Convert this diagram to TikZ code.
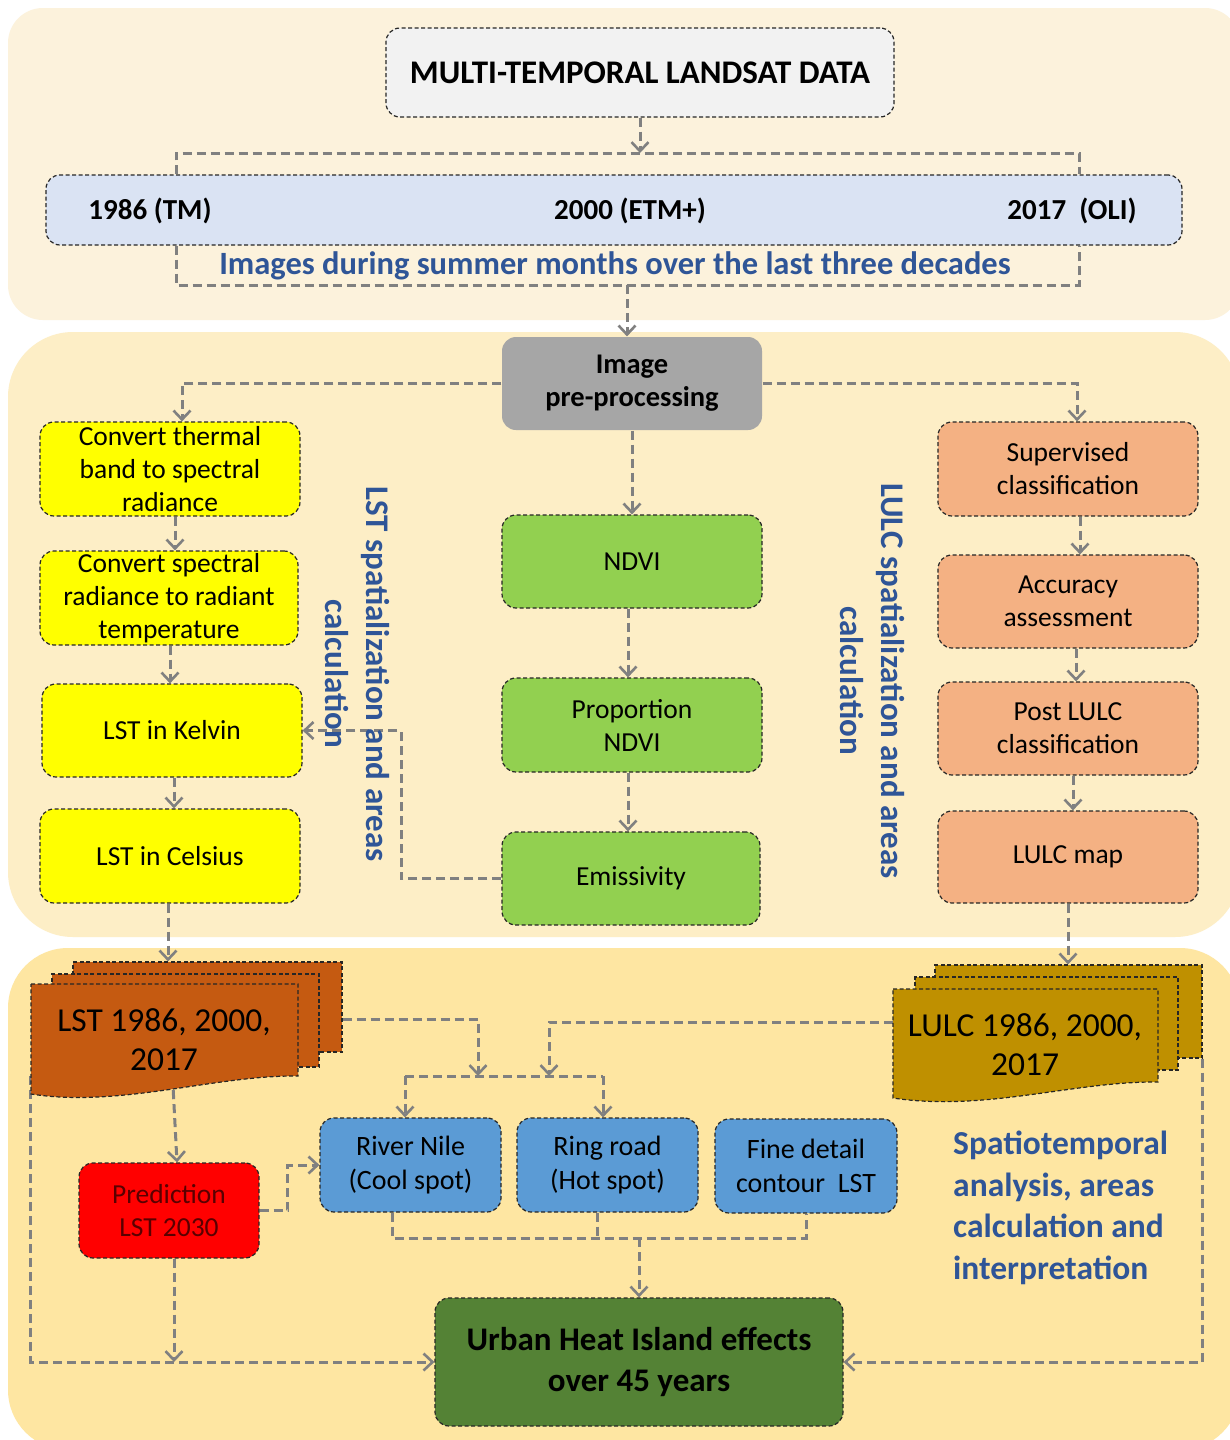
\documentclass[tikz,border=0pt]{standalone}
\usepackage{fontspec}
\setmainfont{Carlito}
\usetikzlibrary{arrows.meta,calc}
\pgfdeclarelayer{bg}\pgfdeclarelayer{mid}\pgfsetlayers{bg,mid,main}
\definecolor{panA}{HTML}{FCF2DC}
\definecolor{panB}{HTML}{FDEEC6}
\definecolor{panC}{HTML}{FEE6A2}
\definecolor{arrgray}{HTML}{808080}
\definecolor{bluetxt}{HTML}{2F5597}
\definecolor{yel}{HTML}{FFFF00}
\definecolor{grn}{HTML}{92D050}
\definecolor{org}{HTML}{F4B183}
\definecolor{blu}{HTML}{5B9BD5}
\definecolor{dgrn}{HTML}{548235}
\definecolor{lstc}{HTML}{C55A11}
\definecolor{lulcc}{HTML}{BF9000}
\definecolor{yearsc}{HTML}{DAE3F3}
\definecolor{multic}{HTML}{F2F2F2}
\definecolor{prec}{HTML}{A6A6A6}
\definecolor{predtxt}{HTML}{5A0000}
\begin{document}
\begin{tikzpicture}[x=1pt,y=-1pt,
  box/.style={draw=black!85, line width=1.2pt, dash pattern=on 4pt off 2.5pt,
    rounded corners=14pt, inner sep=0pt, align=center,
    font=\fontsize{27.5}{33}\selectfont, text=black},
  sheet/.style={draw=black!85, line width=1.2pt, dash pattern=on 4pt off 2.5pt, inner sep=0pt},
  sheetpath/.style={draw=black!85, line width=1.2pt, dash pattern=on 4pt off 2.5pt},
  ln/.style={draw=arrgray, line width=3pt, dash pattern=on 9pt off 5pt},
  arr/.style={ln, -{Straight Barb[length=9pt,width=17pt,line width=2.6pt]}},
  lbl/.style={text=bluetxt, font=\bfseries\fontsize{33}{41}\selectfont, align=center, inner sep=0pt},
  yr/.style={font=\bfseries\fontsize{29}{32}\selectfont, inner sep=0pt}
]
\useasboundingbox (0,0) rectangle (1229,1440);
\begin{pgfonlayer}{bg}
  \fill[white] (0,0) rectangle (1229,1440);
  \fill[panA, rounded corners=35pt] (8,8) rectangle (1240,320);
  \fill[panB, rounded corners=65pt] (8,332) rectangle (1240,937);
  \fill[panC, rounded corners=60pt] (8,948) rectangle (1240,1450);
\end{pgfonlayer}

% top section
\node[box, fill=multic, minimum width=508pt, minimum height=89pt,
  font=\bfseries\fontsize{33}{38}\selectfont] (multi) at (640,72.5) {MULTI-TEMPORAL LANDSAT DATA};
\node[box, fill=yearsc, minimum width=1136pt, minimum height=70pt] (years) at (614,210) {};
\node[yr] (y1) at (150,211) {1986 (TM)};
\node[yr] (y2) at (630,211) {2000 (ETM+)};
\node[yr] (y3) at (1072,211) {2017\ \ (OLI)};
\node[lbl, font=\bfseries\fontsize{32.5}{36}\selectfont] (imgs) at (615,266) {Images during summer months over the last three decades};
\coordinate (tbL) at (176,153);
\coordinate (tbR) at (1079,153);
\coordinate (bbL) at (176,285);
\coordinate (bbR) at (1079,285);

% middle section
\node[box, draw=none, fill=prec, minimum width=260pt, minimum height=93pt,
  font=\bfseries\fontsize{28.5}{33}\selectfont] (pre) at (632,383.5) {Image\\pre-processing};
\node[box, fill=yel, minimum width=260pt, minimum height=94pt] (ct) at (170,469) {Convert thermal\\band to spectral\\radiance};
\node[box, fill=yel, minimum width=258pt, minimum height=94pt] (cs) at (169,598) {Convert spectral\\radiance to radiant\\temperature};
\node[box, fill=yel, minimum width=260pt, minimum height=93pt] (lk) at (172,730.5) {LST in Kelvin};
\node[box, fill=yel, minimum width=260pt, minimum height=94pt] (lc) at (170,856) {LST in Celsius};
\node[box, fill=grn, minimum width=260pt, minimum height=93pt] (ndvi) at (632,561.5) {NDVI};
\node[box, fill=grn, minimum width=260pt, minimum height=94pt] (pndvi) at (632,725) {Proportion\\NDVI};
\node[box, fill=grn, minimum width=258pt, minimum height=93pt] (em) at (631,878.5) {Emissivity};
\node[box, fill=org, minimum width=260pt, minimum height=94pt] (sup) at (1068,469) {Supervised\\classification};
\node[box, fill=org, minimum width=260pt, minimum height=93pt] (acc) at (1068,601.5) {Accuracy\\assessment};
\node[box, fill=org, minimum width=260pt, minimum height=93pt] (post) at (1068,728.5) {Post LULC\\classification};
\node[box, fill=org, minimum width=260pt, minimum height=92pt] (lmap) at (1068,857) {LULC map};
\node[lbl, rotate=-90] (lstlab) at (357,674) {LST spatialization and areas\\calculation};
\node[lbl, rotate=-90] (lulclab) at (872,681) {LULC spatialization and areas\\calculation};

% bottom section: stacked documents
\node[sheet, fill=lstc, minimum width=269pt, minimum height=90pt] (lstb) at (207.5,1007) {};
\node[sheet, fill=lstc, minimum width=267pt, minimum height=93pt] (lstm) at (185.5,1020.5) {};
\node[inner sep=0pt, minimum width=267pt, minimum height=92pt] (lstf) at (164.5,1030) {};
\path[sheetpath, fill=lstc] (31,984) -- (298,984) -- (298,1076)
  .. controls (215,1075) and (120,1108) .. (31,1094) -- cycle;
\node[inner sep=0pt, align=center, font=\fontsize{33.5}{39}\selectfont] (lsttxt) at (164,1040) {LST 1986, 2000,\\2017};

\node[sheet, fill=lulcc, minimum width=267pt, minimum height=93pt] (lulcb) at (1068.5,1011.5) {};
\node[sheet, fill=lulcc, minimum width=263pt, minimum height=93pt] (lulcm) at (1046.5,1023.5) {};
\node[inner sep=0pt, minimum width=265pt, minimum height=93pt] (lulcf) at (1025.5,1035.5) {};
\path[sheetpath, fill=lulcc] (893,989) -- (1158,989) -- (1158,1082)
  .. controls (1075,1081) and (985,1112) .. (893,1098) -- cycle;
\node[inner sep=0pt, align=center, font=\fontsize{33.5}{39}\selectfont] (lulctxt) at (1025,1045) {LULC 1986, 2000,\\2017};

\node[box, fill=red, text=predtxt, minimum width=180pt, minimum height=95pt] (pred) at (169,1210.5) {Prediction\\LST 2030};
\node[box, fill=blu, minimum width=181pt, minimum height=94pt, font=\fontsize{28}{34}\selectfont] (rn) at (410.5,1165) {River Nile\\(Cool spot)};
\node[box, fill=blu, minimum width=181pt, minimum height=94pt, font=\fontsize{28}{34}\selectfont] (rr) at (607.5,1165) {Ring road\\(Hot spot)};
\node[box, fill=blu, minimum width=182pt, minimum height=94pt, font=\fontsize{28}{34}\selectfont] (fd) at (806,1166) {Fine detail\\contour\ \ LST};
\node[box, fill=dgrn, minimum width=408pt, minimum height=128pt,
  font=\bfseries\fontsize{33}{41}\selectfont] (urban) at (639,1362) {Urban Heat Island effects\\over 45 years};
\node[lbl, anchor=west, align=left, font=\bfseries\fontsize{33.5}{41.5}\selectfont] (spatio) at (953,1208) {Spatiotemporal\\analysis, areas\\calculation and\\interpretation};

\coordinate (j1) at (478,1076);
\coordinate (j2) at (549,1076);
\coordinate (jl) at (405,1076);
\coordinate (jr) at (603,1076);
\coordinate (kb) at (639,1238);

\begin{pgfonlayer}{mid}
  \draw[arr] (multi.south) -- (multi.south |- tbL);
  \draw[ln] (years.north -| tbL) -- (tbL) -- (tbR) -- (years.north -| tbR);
  \draw[ln] (years.south -| bbL) -- (bbL) -- (bbR) -- (years.south -| bbR);
  \draw[arr] ([xshift=-5pt]pre.north |- bbL) -- ([xshift=-5pt]pre.north);
  \draw[arr] (pre.west) -| ([xshift=12pt]ct.north);
  \draw[arr] (pre.east) -| ([xshift=9pt]sup.north);
  \draw[arr] (pre.south) -- (ndvi.north);
  \draw[arr] ([xshift=5pt]ct.south) -- ([xshift=5pt]ct.south |- cs.north);
  \draw[arr] ([xshift=1pt]cs.south) -- ([xshift=1pt]cs.south |- lk.north);
  \draw[arr] ([xshift=2pt]lk.south) -- ([xshift=2pt]lk.south |- lc.north);
  \draw[arr] ([xshift=-4pt]ndvi.south) -- ([xshift=-4pt]ndvi.south |- pndvi.north);
  \draw[arr] ([xshift=-4pt]pndvi.south) -- ([xshift=-4pt]pndvi.south |- em.north);
  \draw[arr] (em.west) -- ++(-100,0) |- (lk.east);
  \draw[arr] ([xshift=12pt]sup.south) -- ([xshift=12pt]sup.south |- acc.north);
  \draw[arr] ([xshift=8pt]acc.south) -- ([xshift=8pt]acc.south |- post.north);
  \draw[arr] ([xshift=5pt]post.south) -- ([xshift=5pt]post.south |- lmap.north);
  \draw[arr] ([xshift=-2pt]lc.south) -- ([xshift=-2pt]lc.south |- lstb.north);
  \draw[arr] (lmap.south) -- (lmap.south |- lulcb.north);
  \draw[arr] ([yshift=-12pt]lstb.east) -| (j1);
  \draw[arr] ([yshift=13.5pt]lulcf.west) -| (j2);
  \draw[ln] (jl) -- (jr);
  \draw[arr] (jl) -- (jl |- rn.north);
  \draw[arr] (jr) -- (jr |- rr.north);
  \draw[arr] ([xshift=8pt]lstf.south) -- ([xshift=8pt]pred.north);
  \draw[arr] (pred.east) -- ++(28,0) |- (rn.west);
  \draw[arr] ([xshift=5pt]pred.south) -- ([xshift=5pt]pred.south |- urban.west);
  \draw[arr] (lstf.south west) |- (urban.west);
  \draw[arr] (lulcb.south east) |- (urban.east);
  \draw[ln] ([xshift=-18.5pt]rn.south) |- (kb) -| (fd.south);
  \draw[ln] ([xshift=-10pt]rr.south) -- ([xshift=-10pt]rr.south |- kb);
  \draw[arr] (kb) -- (urban.north);
\end{pgfonlayer}
\end{tikzpicture}
\end{document}
